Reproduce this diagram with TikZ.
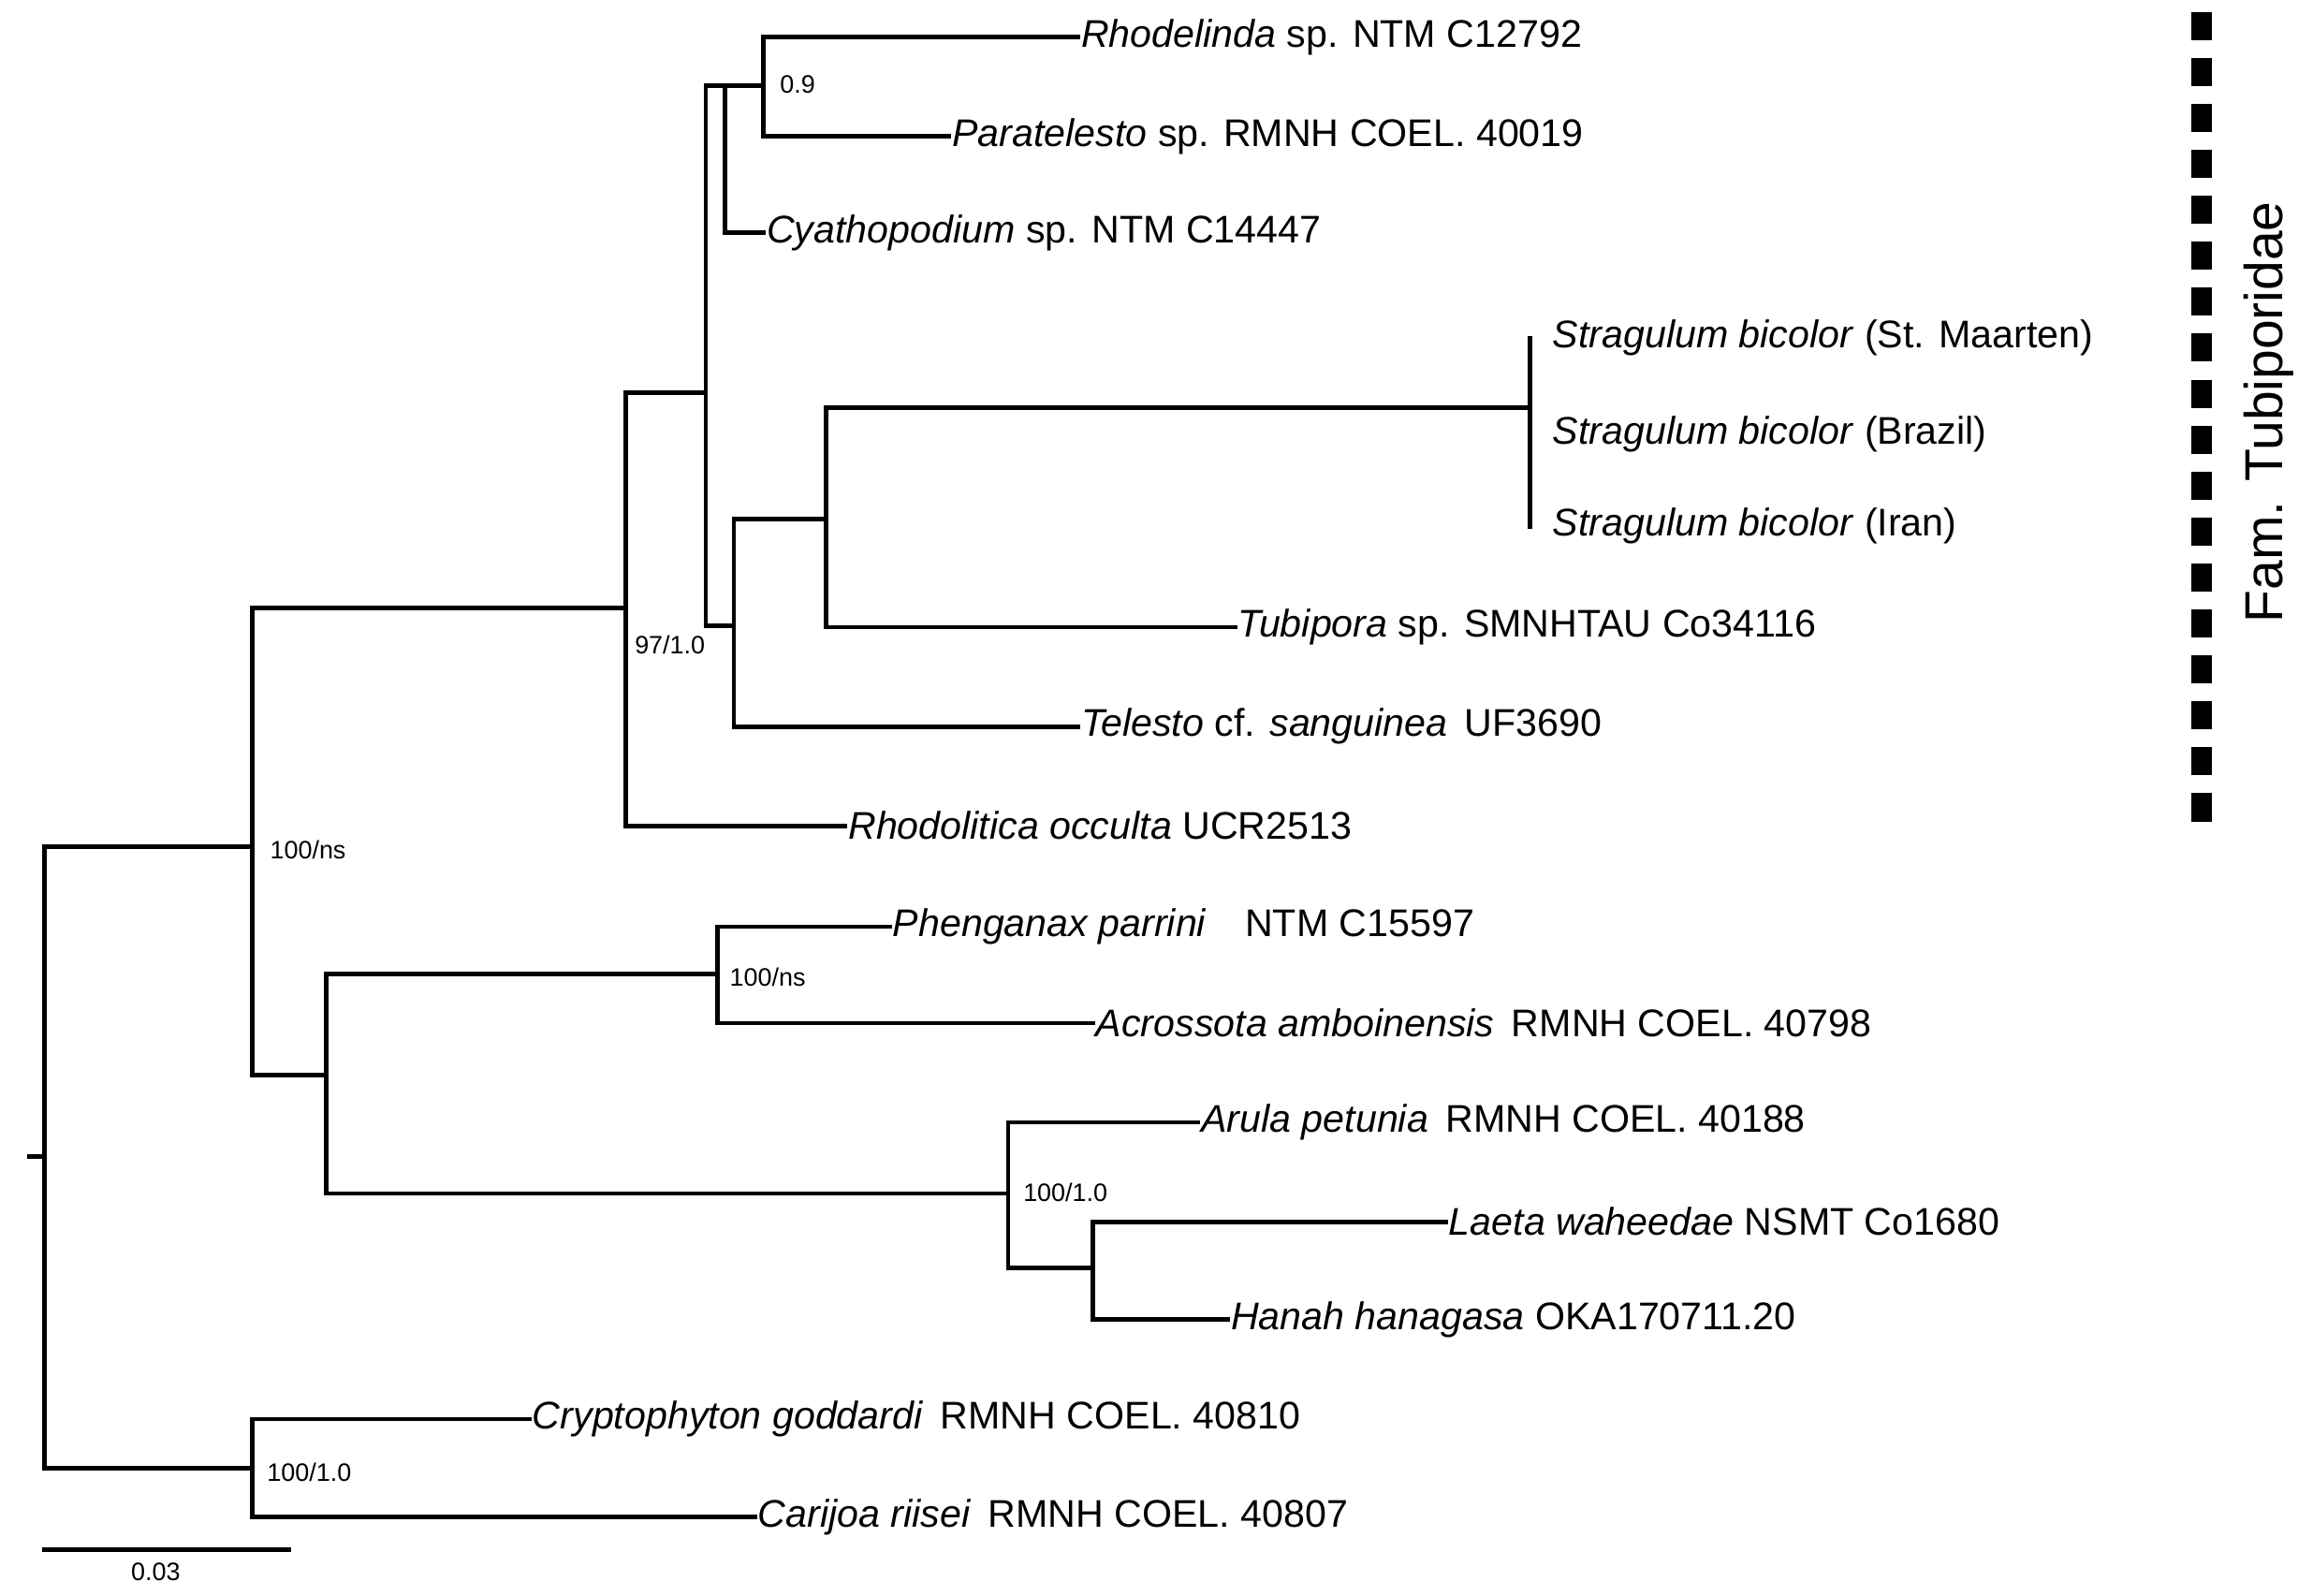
\documentclass[tikz,border=0pt]{standalone}
\usepackage{fontspec}
\setmainfont{Liberation Sans}
\begin{document}
\begin{tikzpicture}[x=1pt,y=1pt,yscale=-1,
  br/.style={line width=3pt,line cap=rect},
  leaf/.style={anchor=west,inner sep=2pt,font=\fontsize{26}{30}\selectfont},
  supp/.style={anchor=west,inner sep=0pt,font=\fontsize{17}{20}\selectfont}]
\useasboundingbox (0,0) rectangle (1560,1076);
% internal nodes
\coordinate (root) at (30,780);
\coordinate (nA) at (170,571);
\coordinate (nB) at (422,410);
\coordinate (nC) at (476,265);
\coordinate (nD) at (489,58);
\coordinate (nE) at (515,58);
\coordinate (nF) at (495,422);
\coordinate (nG) at (557,350);
\coordinate (nH) at (1032,275);
\coordinate (nI) at (220,725);
\coordinate (nJ) at (484,657);
\coordinate (nK) at (680,805);
\coordinate (nL) at (737,855);
\coordinate (nM) at (170,990);
% leaves
\node[leaf] (rhod) at (727,25) {\textit{Rhodelinda} sp. NTM C12792};
\node[leaf] (para) at (640,92) {\textit{Paratelesto} sp. RMNH COEL. 40019};
\node[leaf] (cyat) at (515,157) {\textit{Cyathopodium} sp. NTM C14447};
\node[leaf] (str1) at (1045,228) {\textit{Stragulum bicolor} (St. Maarten)};
\node[leaf] (str2) at (1045,293) {\textit{Stragulum bicolor} (Brazil)};
\node[leaf] (str3) at (1045,355) {\textit{Stragulum bicolor} (Iran)};
\node[leaf] (tubi) at (833,423) {\textit{Tubipora} sp. SMNHTAU Co34116};
\node[leaf] (tele) at (727,490) {\textit{Telesto} cf. \textit{sanguinea}\, UF3690};
\node[leaf] (rhol) at (570,557) {\textit{Rhodolitica occulta} UCR2513};
\node[leaf] (phen) at (600,625) {\textit{Phenganax parrini}\quad NTM C15597};
\node[leaf] (acro) at (737,690) {\textit{Acrossota amboinensis}\, RMNH COEL. 40798};
\node[leaf] (arul) at (808,757) {\textit{Arula petunia}\, RMNH COEL. 40188};
\node[leaf] (laet) at (975,824) {\textit{Laeta waheedae} NSMT Co1680};
\node[leaf] (hana) at (828,890) {\textit{Hanah hanagasa} OKA170711.20};
\node[leaf] (cryp) at (357,957) {\textit{Cryptophyton goddardi}\, RMNH COEL. 40810};
\node[leaf] (cari) at (509,1023) {\textit{Carijoa riisei}\, RMNH COEL. 40807};
% branches
\draw[br] (20,780) -- (root);
\draw[br] (root |- nA) -- (root |- nM);
\draw[br] (root |- nA) -- (nA);
\draw[br] (root |- nM) -- (nM);
\draw[br] (nA |- nB) -- (nA |- nI) -- (nI);
\draw[br] (nA |- nB) -- (nB);
\draw[br] (nB |- nC) -- (nB |- rhol.west) -- (rhol.west);
\draw[br] (nB |- nC) -- (nC);
\draw[br] (nC |- nD) -- (nC |- nF) -- (nF);
\draw[br] (nC |- nD) -- (nD);
\draw[br] (nD) -- (nD |- cyat.west) -- (cyat.west);
\draw[br] (nD) -- (nE);
\draw[br] (nE |- rhod.west) -- (nE |- para.west) -- (para.west);
\draw[br] (nE |- rhod.west) -- (rhod.west);
\draw[br] (nF |- nG) -- (nF |- tele.west) -- (tele.west);
\draw[br] (nF |- nG) -- (nG);
\draw[br] (nG |- nH) -- (nG |- tubi.west) -- (tubi.west);
\draw[br] (nG |- nH) -- (nH);
\draw[br] (nH |- str1.west) -- (nH |- str3.west);
\draw[br] (nI |- nJ) -- (nI |- nK) -- (nK);
\draw[br] (nI |- nJ) -- (nJ);
\draw[br] (nJ |- phen.west) -- (nJ |- acro.west) -- (acro.west);
\draw[br] (nJ |- phen.west) -- (phen.west);
\draw[br] (nK |- arul.west) -- (nK |- nL) -- (nL);
\draw[br] (nK |- arul.west) -- (arul.west);
\draw[br] (nL |- laet.west) -- (nL |- hana.west) -- (hana.west);
\draw[br] (nL |- laet.west) -- (laet.west);
\draw[br] (nM |- cryp.west) -- (nM |- cari.west) -- (cari.west);
\draw[br] (nM |- cryp.west) -- (cryp.west);
% support values
\node[supp] (s1) at (526,57) {0.9};
\node[supp] (s2) at (428,435) {97/1.0};
\node[supp] (s3) at (182,573) {100/ns};
\node[supp] (s4) at (492,659) {100/ns};
\node[supp] (s5) at (690,804) {100/1.0};
\node[supp] (s6) at (180,993) {100/1.0};
% scale bar
\coordinate (sb1) at (30,1045);
\coordinate (sb2) at (195,1045);
\draw[br] (sb1) -- (sb2);
\node[supp,anchor=center] (sbl) at (105,1060) {0.03};
% family bar
\coordinate (fb1) at (1485,8);
\coordinate (fb2) at (1485,565);
\draw[line width=14pt,dash pattern=on 19pt off 12pt] (fb1) -- (fb2);
\node[rotate=90,font=\fontsize{36}{40}\selectfont] (fam) at (1530,278) {Fam. Tubiporidae};
\end{tikzpicture}
\end{document}
